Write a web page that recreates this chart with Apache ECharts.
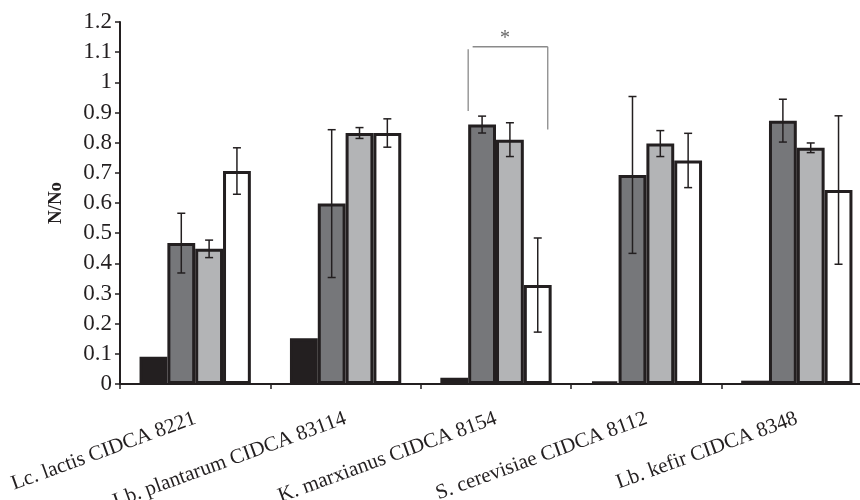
<!DOCTYPE html>
<html>
<head>
<meta charset="utf-8">
<script src="https://cdn.jsdelivr.net/npm/echarts@6/dist/echarts.min.js"></script>
<style>html,body{margin:0;padding:0;background:#fff}#c{width:860px;height:500px}</style>
</head>
<body>
<div id="c"></div>
<script>
var categories = ['Lc. lactis CIDCA 8221', 'Lb. plantarum CIDCA 83114', 'K. marxianus CIDCA 8154', 'S. cerevisiae CIDCA 8112', 'Lb. kefir CIDCA 8348'];
var yTicks = [0, 0.1, 0.2, 0.3, 0.4, 0.5, 0.6, 0.7, 0.8, 0.9, 1, 1.1, 1.2];

var s1 = [0.09, 0.152, 0.021, 0.008, 0.011];
var s2 = [0.467, 0.598, 0.860, 0.693, 0.873];
var s3 = [0.448, 0.832, 0.810, 0.797, 0.783];
var s4 = [0.706, 0.832, 0.328, 0.741, 0.643];

var e1 = [0, 0, 0, 0, 0];
var e2 = [0.099, 0.245, 0.028, 0.26, 0.071];
var e3 = [0.029, 0.018, 0.056, 0.043, 0.016];
var e4 = [0.077, 0.047, 0.156, 0.09, 0.246];

// significance bracket (value coordinates) over category 3
var bracketCategory = 2;
var bracketLeft = [0.905, 1.11];
var bracketTop = 1.118;
var bracketRight = 0.844;
var bracketLabel = '*';
var bracketLabelY = 1.146;

var colors = ['#231f20', '#76777a', '#b3b4b6', '#ffffff'];
var values = [s1, s2, s3, s4];
var errors = [e1, e2, e3, e4];
var catGap = 0.26;

var errData = [];
for (var s = 0; s < 4; s++) {
  for (var i = 0; i < categories.length; i++) {
    if (errors[s][i] > 0) {
      errData.push([i, values[s][i] - errors[s][i], values[s][i] + errors[s][i], s]);
    }
  }
}

var chart = echarts.init(document.getElementById('c'), null, {renderer: 'canvas'});

var barSeries = values.map(function (v, k) {
  return {
    type: 'bar',
    data: v,
    barGap: '0%',
    barCategoryGap: (catGap * 100) + '%',
    itemStyle: {color: colors[k], borderColor: '#231f20', borderWidth: 3},
    silent: true
  };
});

var errSeries = {
  type: 'custom',
  data: errData,
  encode: {x: 0, y: [1, 2]},
  z: 5,
  silent: true,
  renderItem: function (params, api) {
    var ci = api.value(0);
    var s = api.value(3);
    var band = api.size([1, 0])[0];
    var bw = band * (1 - catGap) / 4;
    var cx = api.coord([ci, 0])[0] + (s - 1.5) * bw;
    var lo = api.coord([ci, api.value(1)])[1];
    var hi = api.coord([ci, api.value(2)])[1];
    var cap = 4;
    var st = {stroke: '#231f20', lineWidth: 1.5};
    return {
      type: 'group',
      children: [
        {type: 'line', shape: {x1: cx, y1: lo, x2: cx, y2: hi}, style: st},
        {type: 'line', shape: {x1: cx - cap, y1: lo, x2: cx + cap, y2: lo}, style: st},
        {type: 'line', shape: {x1: cx - cap, y1: hi, x2: cx + cap, y2: hi}, style: st}
      ]
    };
  }
};

var bracketSeries = {
  type: 'custom',
  data: [[bracketCategory, bracketTop]],
  encode: {x: 0, y: 1},
  z: 6,
  silent: true,
  clip: false,
  renderItem: function (params, api) {
    var ci = api.value(0);
    var band = api.size([1, 0])[0];
    var bw = band * (1 - catGap) / 4;
    var c = api.coord([ci, 0])[0];
    var xl = c - 1.0 * bw;
    var xh1 = c - 0.84 * bw;
    var xr = c + 1.86 * bw;
    var yTop = api.coord([ci, bracketTop])[1];
    var st = {stroke: '#8a8a8a', lineWidth: 1.3};
    return {
      type: 'group',
      children: [
        {type: 'line', shape: {x1: xl, y1: api.coord([ci, bracketLeft[0]])[1], x2: xl, y2: api.coord([ci, bracketLeft[1]])[1]}, style: st},
        {type: 'line', shape: {x1: xh1, y1: yTop, x2: xr, y2: yTop}, style: st},
        {type: 'line', shape: {x1: xr, y1: yTop, x2: xr, y2: api.coord([ci, bracketRight])[1]}, style: st},
        {type: 'text', x: c + 0.32 * bw, y: api.coord([ci, bracketLabelY])[1],
          style: {text: bracketLabel, fill: '#666', font: '20px "Liberation Serif"', align: 'center', verticalAlign: 'middle'}}
      ]
    };
  }
};

chart.setOption({
  animation: false,
  backgroundColor: '#fff',
  grid: {left: 120, top: 22, bottom: 116, width: 752, containLabel: false, outerBoundsMode: 'none'},
  xAxis: {
    type: 'category',
    data: categories,
    axisLine: {lineStyle: {color: '#231f20', width: 2}},
    axisTick: {show: true, length: 5, lineStyle: {color: '#231f20', width: 1.5}},
    axisLabel: {
      rotate: 20, margin: 34, color: '#231f20', fontSize: 21,
      fontFamily: 'Liberation Serif', hideOverlap: false
    },
    splitLine: {show: false}
  },
  yAxis: {
    type: 'value',
    min: yTicks[0],
    max: yTicks[yTicks.length - 1],
    interval: 0.1,
    name: 'N/No',
    nameLocation: 'middle',
    nameGap: 54,
    nameRotate: 90,
    nameTextStyle: {fontFamily: 'Liberation Serif', fontWeight: 'bold', fontSize: 19, color: '#231f20'},
    axisLine: {show: true, lineStyle: {color: '#231f20', width: 2}},
    axisTick: {show: true, length: 5, lineStyle: {color: '#231f20', width: 1.5}},
    axisLabel: {
      color: '#231f20', fontSize: 23, fontFamily: 'Liberation Serif', margin: 8,
      formatter: function (v) { return String(Math.round(v * 10) / 10); }
    },
    splitLine: {show: false}
  },
  series: barSeries.concat([errSeries, bracketSeries])
});
</script>
</body>
</html>
